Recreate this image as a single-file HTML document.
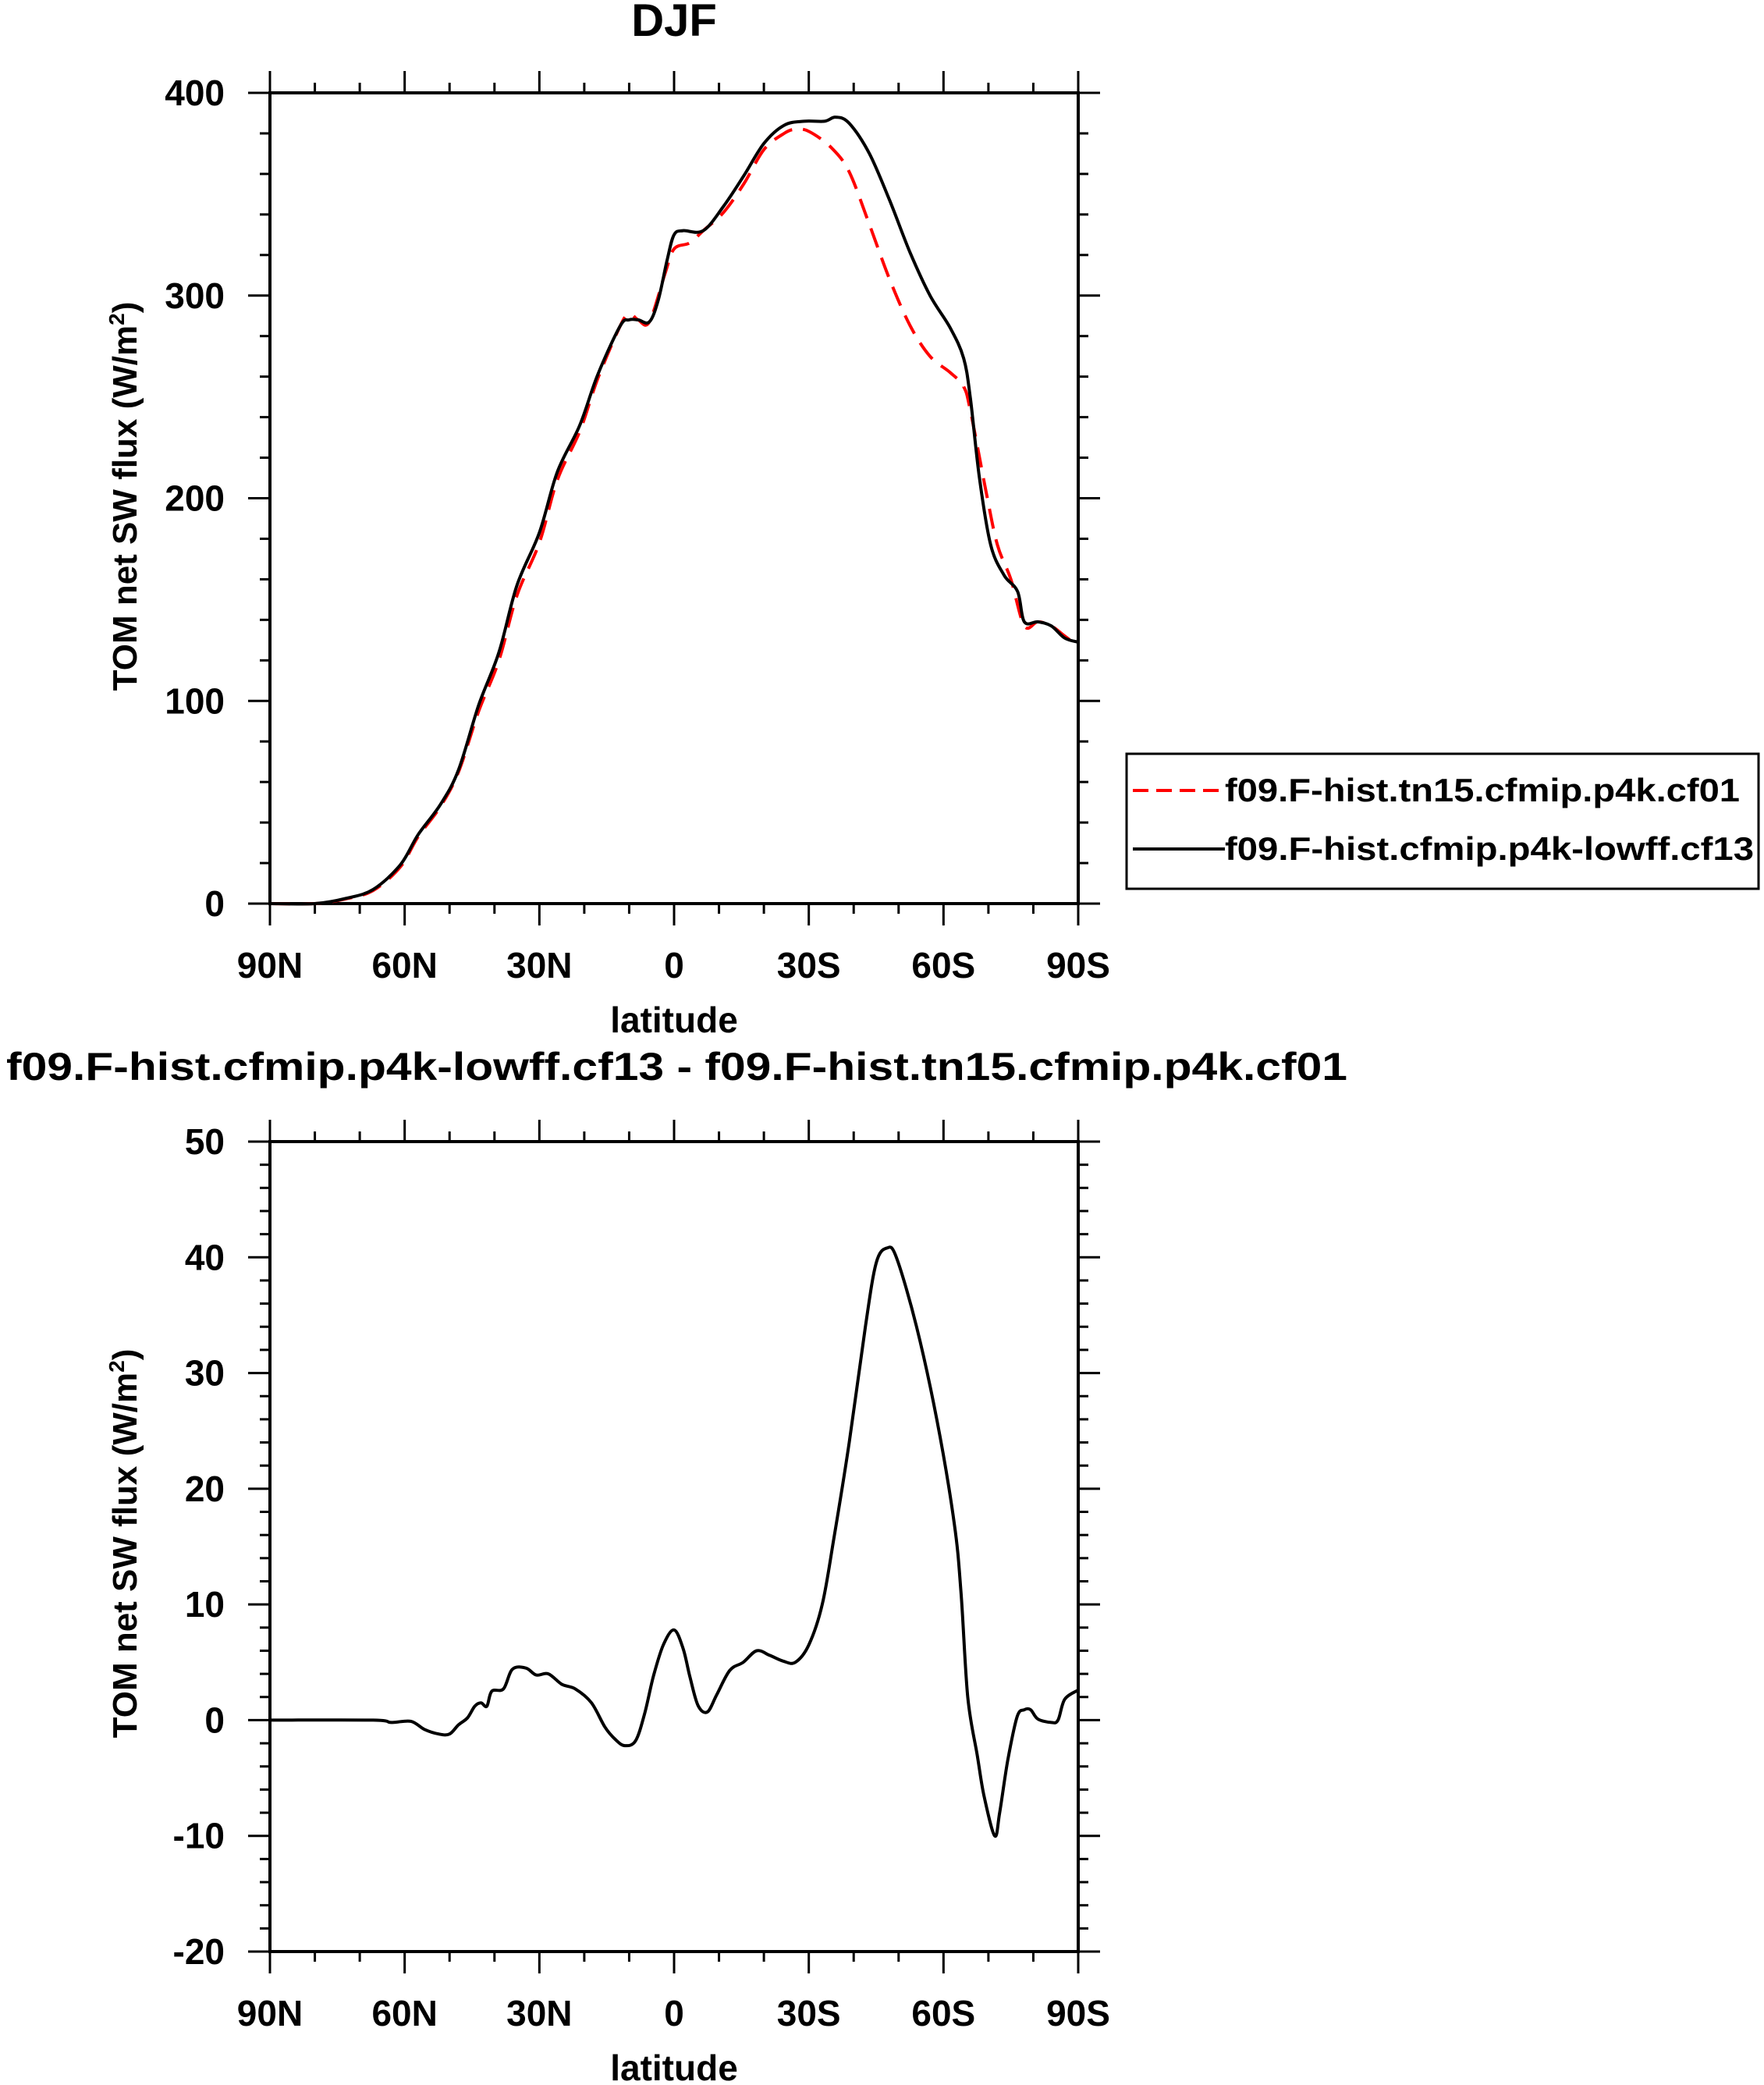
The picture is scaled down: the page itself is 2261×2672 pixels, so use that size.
<!DOCTYPE html>
<html><head><meta charset="utf-8"><style>
html,body{margin:0;padding:0;background:#fff;}
svg{display:block;font-family:"Liberation Sans",sans-serif;font-weight:bold;}
</style></head><body>
<svg id="chart" width="2261" height="2672" viewBox="0 0 2261 2672" xmlns="http://www.w3.org/2000/svg"></svg>
<script>
const latTop = [90,80,73,67,61,57,52,48,43.5,39,35,30,26,21,17,12,10,8,5.5,3.5,1.5,0,-2,-6.5,-11,-15.5,-20,-24.5,-29,-33.5,-36,-39,-43.5,-48,-52.6,-57,-61.5,-64.5,-66,-68,-70.5,-73.5,-76.5,-78,-81,-84,-87,-90];
const blackVals = [0,0,2.6,7,19,34,49,66,98,124,157,183,213,236,261,285,288,288,287,298,318,330,332,332,344,359,375,384,386,386,388,385,370,347,321,300,284,269,249,210,177,162,154,139,139,137,131,129];
const latRed = [90,80,73,67,61,57,52,48,43.5,39,35,30,26,21,17,12,10,8,5.5,2,0,-3.5,-6.5,-11,-15.5,-20,-24.5,-27,-30,-35,-39,-43.5,-48,-52.6,-57,-61.5,-64.5,-66,-69.5,-72,-75,-78,-81,-84,-87,-90];
const redVals = [0,0,2.4,6.5,18,33,48,65,95,120,152,178,209,233,259,285,291,288,287,311,323,326,332,341,355,372,380,382,381,373,361,335,308,285,270,262,255,243,203,177,160,137,139,137,132,127];
const latDiff = [90,67,63,58.6,55.6,52.4,50,48,46,44.4,43,41.7,40.6,38,36,33,30.7,28,25,22,18.4,15.4,13,11,8.6,6.6,4.6,2.4,0,-2,-3.5,-5.3,-7.4,-9.5,-12.4,-15.4,-18.4,-21.3,-24.3,-27,-30,-33,-35.5,-39,-42.6,-45,-47.4,-49.5,-54,-58.5,-62.4,-63.9,-65.4,-67.5,-69,-71.4,-72.5,-74.3,-76.4,-78,-79.4,-81,-84,-85.5,-87,-90];
const diffVals = [0,0,-0.2,-0.1,-0.8,-1.2,-1.2,-0.4,0.2,1.2,1.5,1.2,2.5,2.7,4.4,4.5,3.9,4.0,3.1,2.7,1.5,-0.6,-1.7,-2.2,-1.8,0.5,3.8,6.5,7.8,6.2,3.8,1.3,0.7,2.2,4.3,5.0,6.0,5.6,5.1,5.0,6.5,10,15.5,24,34,39.5,40.8,40,34,26,17,11,2,-3,-6.5,-10,-8,-3.5,0.3,0.9,0.9,0.1,-0.2,0,1.8,2.6];
const xTickVals = [90,60,30,0,-30,-60,-90];
const xTickLabels = ["90N","60N","30N","0","30S","60S","90S"];
const yTicksTop = [0,100,200,300,400];
const yTicksBot = [-20,-10,0,10,20,30,40,50];

const NS="http://www.w3.org/2000/svg";
const svg=document.getElementById('chart');
function el(tag,attrs,parent){const e=document.createElementNS(NS,tag);for(const k in attrs)e.setAttribute(k,attrs[k]);(parent||svg).appendChild(e);return e;}
const L=346,R=1382;
function xs(lat){return L+(90-lat)/180*(R-L);}

function panel(name,yTop,yBot,vmin,vmax,ticks,minorStep,ylabCY){
  const g=el('g',{});
  
  
  const ys=v=>yBot-(v-vmin)/(vmax-vmin)*(yBot-yTop);
  for(let lat=90;lat>=-90;lat-=10){
    const maj=(lat%30===0), x=xs(lat), len=maj?28:13;
    el('line',{x1:x,x2:x,y1:yBot,y2:yBot+len,stroke:'#000','stroke-width':3},g);
    el('line',{x1:x,x2:x,y1:yTop,y2:yTop-len,stroke:'#000','stroke-width':3},g);
  }
  for(let v=vmin;v<=vmax+1e-9;v+=minorStep){
    const maj=ticks.some(t=>Math.abs(t-v)<1e-6), y=ys(v), len=maj?28:13;
    el('line',{x1:L,x2:L-len,y1:y,y2:y,stroke:'#000','stroke-width':3},g);
    el('line',{x1:R,x2:R+len,y1:y,y2:y,stroke:'#000','stroke-width':3},g);
  }
  el('rect',{x:L,y:yTop,width:R-L,height:yBot-yTop,fill:'none',stroke:'#000','stroke-width':4},g);
  ticks.forEach(t=>{
    const tx=el('text',{x:288,y:ys(t)+16,'text-anchor':'end','font-size':46},g);
    
    
    tx.textContent=t;
  });
  xTickVals.forEach((v,i)=>{
    const tx=el('text',{x:xs(v),y:yBot+95,'text-anchor':'middle','font-size':46},g);
    
    
    tx.textContent=xTickLabels[i];
  });
  const xl=el('text',{x:(L+R)/2,y:yBot+165,'text-anchor':'middle','font-size':46},g);
  
  
  xl.textContent='latitude';
  const yl=el('text',{x:0,y:0,'text-anchor':'middle','font-size':44,transform:`translate(175,${ylabCY}) rotate(-90)`},g);
  
  
  yl.innerHTML='TOM net SW flux (W/m<tspan dy="-16" font-size="28">2</tspan><tspan dy="16">)</tspan>';
  return {g,ys};
}
function line(g,ys,lats,vals,color,dash,name){
  const P=lats.map((l,i)=>[xs(l),ys(vals[i])]);
  let d='M'+P[0][0].toFixed(1)+','+P[0][1].toFixed(1);
  for(let i=0;i<P.length-1;i++){
    const p0=P[Math.max(0,i-1)],p1=P[i],p2=P[i+1],p3=P[Math.min(P.length-1,i+2)];
    const c1=[p1[0]+(p2[0]-p0[0])/6,p1[1]+(p2[1]-p0[1])/6];
    const c2=[p2[0]-(p3[0]-p1[0])/6,p2[1]-(p3[1]-p1[1])/6];
    d+=' C'+c1[0].toFixed(1)+','+c1[1].toFixed(1)+' '+c2[0].toFixed(1)+','+c2[1].toFixed(1)+' '+p2[0].toFixed(1)+','+p2[1].toFixed(1);
  }
  const p=el('path',{d,fill:'none',stroke:color,'stroke-width':4,'stroke-linejoin':'round'},g);
  if(dash)p.setAttribute('stroke-dasharray',dash);
  
  
}

const t1=el('text',{x:864,y:46,'text-anchor':'middle','font-size':58});


t1.textContent='DJF';

const P1=panel('top-panel',119,1158,0,400,yTicksTop,20,636);
line(P1.g,P1.ys,latRed,redVals,'#ff0000','26,14','series-cf01');
line(P1.g,P1.ys,latTop,blackVals,'#000','', 'series-cf13');

const lg=el('g',{});


el('rect',{x:1444,y:966,width:810,height:173,fill:'#fff',stroke:'#000','stroke-width':3},lg);
el('line',{x1:1452,x2:1570,y1:1013,y2:1013,stroke:'#f00','stroke-width':4,'stroke-dasharray':'20,10'},lg);
el('line',{x1:1452,x2:1570,y1:1088,y2:1088,stroke:'#000','stroke-width':4},lg);
const le1=el('text',{x:1570,y:1027,'font-size':42,textLength:660,lengthAdjust:'spacingAndGlyphs'},lg);


le1.textContent='f09.F-hist.tn15.cfmip.p4k.cf01';
const le2=el('text',{x:1570,y:1102,'font-size':42,textLength:678,lengthAdjust:'spacingAndGlyphs'},lg);


le2.textContent='f09.F-hist.cfmip.p4k-lowff.cf13';

const t2=el('text',{x:8,y:1384,'font-size':50,textLength:1719,lengthAdjust:'spacingAndGlyphs'});


t2.textContent='f09.F-hist.cfmip.p4k-lowff.cf13 - f09.F-hist.tn15.cfmip.p4k.cf01';

const P2=panel('bottom-panel',1463,2501,-20,50,yTicksBot,2,1978);
line(P2.g,P2.ys,latDiff,diffVals,'#000','','series-difference');
</script>
</body></html>
